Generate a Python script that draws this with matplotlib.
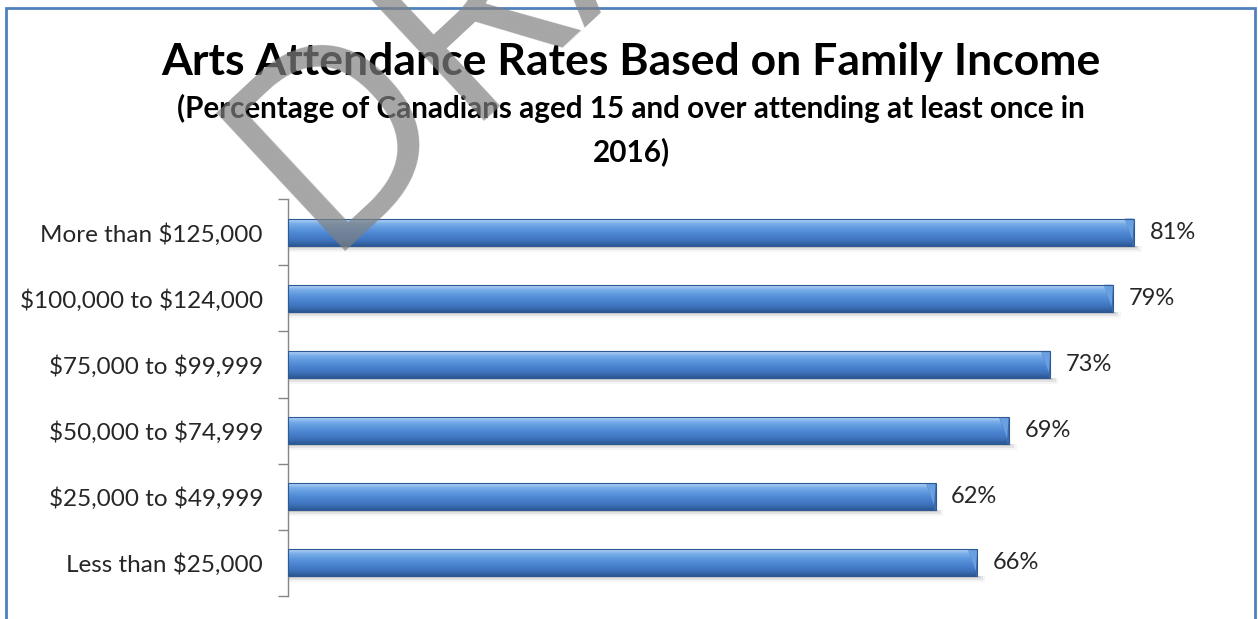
import numpy as np
import matplotlib
matplotlib.use('Agg')
from matplotlib import pyplot as plt
from matplotlib.colors import LinearSegmentedColormap
from matplotlib.patches import Rectangle, Polygon

# income groups, top to bottom, and attendance rates (%)
categories = ['More than $125,000', '$100,000 to $124,000', '$75,000 to $99,999',
              '$50,000 to $74,999', '$25,000 to $49,999', 'Less than $25,000']
rates = [81, 79, 73, 69, 62, 66]

title = 'Arts Attendance Rates Based on Family Income'
subtitle = ('(Percentage of Canadians aged 15 and over attending at least once in\n'
            '2016)')

plt.rcParams['font.family'] = ['Lato', 'DejaVu Sans']
plt.rcParams['text.parse_math'] = False

fig = plt.figure(figsize=(12.58, 6.19), dpi=100)
W, H = 1258, 619

# chart frame
fig.add_artist(Rectangle((6 / W, -0.1), (1255 - 6) / W, 1.1 - 8 / H,
                         transform=fig.transFigure, fill=False,
                         edgecolor='#4f81bd', linewidth=2))

ax = fig.add_axes([288 / W, 1 - 596 / H, 940 / W, (596 - 199) / H])

y = np.arange(len(categories))
bars = ax.barh(y, rates, height=0.41, color='#4a83cf', edgecolor='none', zorder=2)

# bevelled shading on every bar
cmap = LinearSegmentedColormap.from_list(
    'bevel', ['#c3dcf7', '#78ade9', '#5b95dc', '#4a83cf', '#3f74bd', '#2c5893'])
grad = np.linspace(0, 1, 64).reshape(-1, 1)
for b in bars:
    x0, y0, w, h = b.get_x(), b.get_y(), b.get_width(), b.get_height()
    # soft shadow underneath
    for k, a in enumerate([0.10, 0.07, 0.04]):
        ax.add_patch(Rectangle((x0, y0 + h), w + 0.25 * (k + 1), 0.03 * (k + 1),
                               facecolor='black', alpha=a, edgecolor='none', zorder=1))
    im = ax.imshow(grad, extent=[x0, x0 + w, y0 + h, y0], aspect='auto',
                   cmap=cmap, interpolation='bicubic', zorder=3)
    im.set_clip_path(b)
    # end cap
    cap = 0.9
    ax.add_patch(Polygon([[x0 + w - cap, y0], [x0 + w, y0], [x0 + w, y0 + h],
                          [x0 + w - 0.15, y0 + h], [x0 + w - 0.15, y0 + h * 0.8]],
                         closed=True, facecolor='#3a6db3', edgecolor='none', zorder=4))
    ax.add_patch(Polygon([[x0 + w - cap, y0], [x0 + w, y0], [x0 + w - 0.15, y0 + h * 0.8]],
                         closed=True, facecolor='#6a9fe0', edgecolor='none', zorder=4))
    ax.add_patch(Rectangle((x0, y0), w, h, fill=False, edgecolor='#2d5a93',
                           linewidth=0.8, zorder=5))
    ax.text(x0 + w + 1.5, y0 + h / 2, f'{w:.0f}%', va='center', ha='left',
            fontsize=17, color='#262626')

ax.set_xlim(0, 90)
ax.set_ylim(len(categories) - 0.5, -0.5)
ax.set_yticks(y)
ax.set_yticklabels(categories, fontsize=17.5, color='#262626')
ax.set_yticks(np.arange(len(categories) + 1) - 0.5, minor=True)
ax.tick_params(axis='y', which='major', length=0, pad=18)
ax.tick_params(axis='y', which='minor', length=7, color='#868686', width=1)
ax.set_xticks([])
for s in ['top', 'right', 'bottom']:
    ax.spines[s].set_visible(False)
ax.spines['left'].set_color('#868686')
ax.spines['left'].set_linewidth(1)

fig.text(631 / W, 1 - 62 / H, title, ha='center', va='center',
         fontsize=32, fontweight='bold', color='black')
fig.text(631 / W, 1 - 130 / H, subtitle, ha='center', va='center',
         fontsize=21.3, fontweight='bold', color='black', linespacing=1.62)

# watermark
fig.text(320 / W, 1 - 252 / H, 'DRAFT', fontsize=190, color='gray', alpha=0.7,
         rotation=43, rotation_mode='anchor', ha='left', va='baseline',
         family='Open Sans', fontweight='normal', zorder=10)

fig.savefig('out.png', dpi=100)
